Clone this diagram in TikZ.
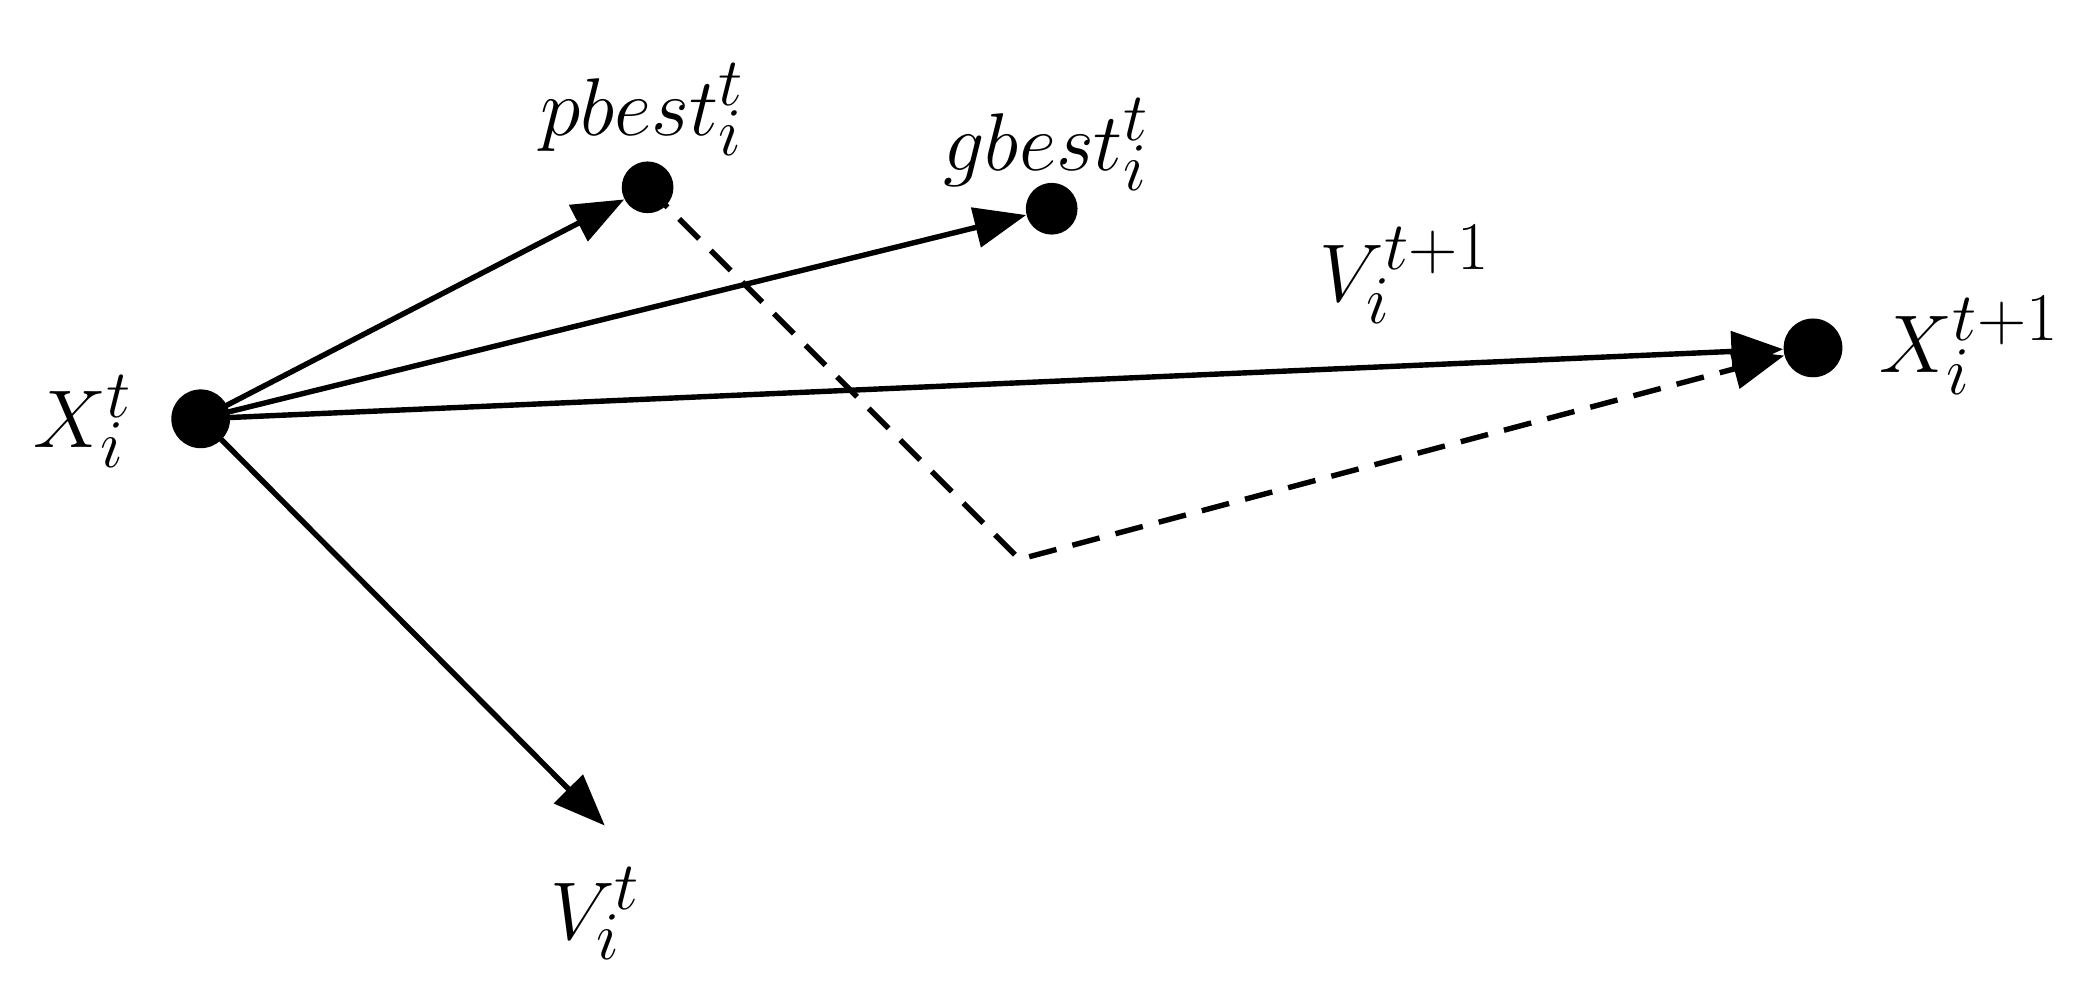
\documentclass[tikz,border=0pt]{standalone}
\usepackage{graphicx}
\usetikzlibrary{arrows.meta}
\newcommand{\lblmath}[1]{\scalebox{1.4}{\fontsize{24.88}{28}\selectfont$#1$}}
\begin{document}
\begin{tikzpicture}[x=0.02cm,y=-0.02cm,
  dot/.style={circle,fill=black,inner sep=0pt,minimum size=#1},
  arr/.style={line width=2.3pt,-{Triangle[length=22pt,width=17pt]}},
  lbl/.style={inner sep=0pt}]
\useasboundingbox (0,0) rectangle (1568,753);
\node[dot=25pt] (x) at (150,313) {};
\node[dot=22pt] (p) at (484,140) {};
\node[dot=22pt] (g) at (786,156) {};
\node[dot=25pt] (x1) at (1355,260) {};
\coordinate (v) at (452,617);
\coordinate (c) at (762,418);
\draw[arr] (x.center) -- (p);
\draw[arr] (x.center) -- (g);
\draw[arr] (x.center) -- (x1);
\draw[arr] (x.center) -- (v);
\draw[arr,dashed,dash pattern=on 12pt off 7pt] (p.center) -- (c) -- (x1);
\node[lbl] (lx) at (62,315) {\lblmath{X_i^t}};
\node[lbl] (lp) at (480,82) {\lblmath{pbest_i^t}};
\node[lbl] (lg) at (782,108) {\lblmath{gbest_i^t}};
\node[lbl] (lv1) at (1050,205) {\lblmath{V_i^{t+1}}};
\node[lbl] (lx1) at (1472,258) {\lblmath{X_i^{t+1}}};
\node[lbl] (lv) at (445,683) {\lblmath{V_i^t}};
\end{tikzpicture}
\end{document}
